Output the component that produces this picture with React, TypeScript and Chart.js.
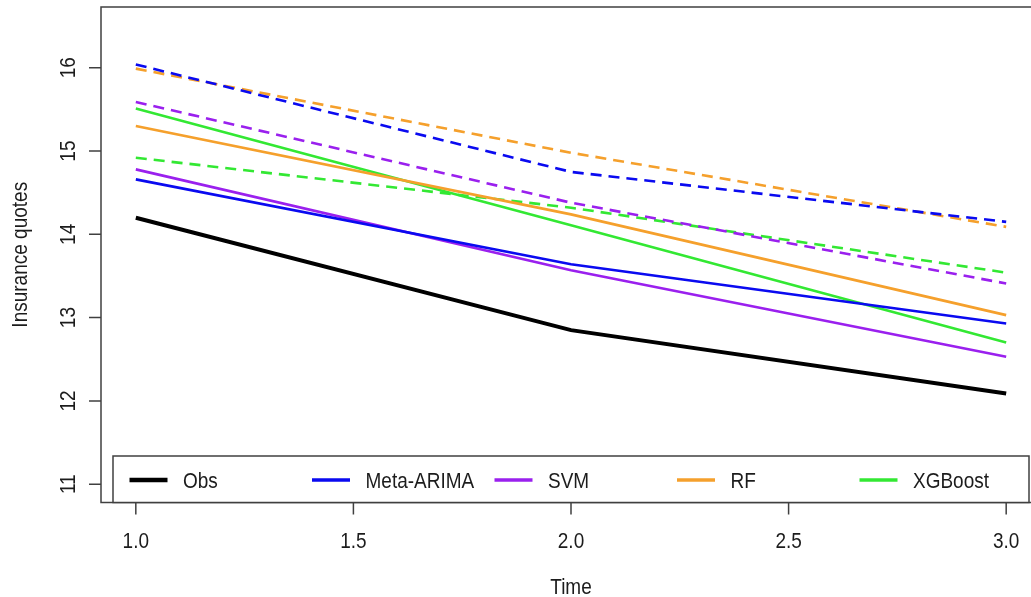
import { useEffect, useRef } from "react";
import { Chart, registerables } from "chart.js";

Chart.register(...registerables);

// Forecast horizon (time steps)
const times = [1, 2, 3];

// Observed values and model forecasts (solid lines)
const obs = [14.2, 12.85, 12.09];
const metaArima = [14.66, 13.64, 12.93];
const svm = [14.78, 13.57, 12.53];
const rf = [15.3, 14.24, 13.03];
const xgboost = [15.51, 14.11, 12.7];

// Companion dashed curves for each model
const metaArimaDashed = [16.04, 14.75, 14.15];
const svmDashed = [15.59, 14.38, 13.41];
const rfDashed = [15.99, 14.98, 14.09];
const xgboostDashed = [14.92, 14.32, 13.54];

const legendLabels = ["Obs", "Meta-ARIMA", "SVM", "RF", "XGBoost"];
const xTicks = [1.0, 1.5, 2.0, 2.5, 3.0];
const yTicks = [11, 12, 13, 14, 15, 16];

const COLORS = {
  Obs: "#000000",
  "Meta-ARIMA": "#0a0af0",
  SVM: "#9a20ee",
  RF: "#f5a02c",
  XGBoost: "#33e833",
};

const FONT = '19px "Liberation Sans", Arial, Helvetica, sans-serif';
const INK = "#1c1c1c";
const AXIS = "#404040";
// glyphs are drawn slightly taller than wide, like the narrow Helvetica look
const STRETCH = 1.13;

function drawText(
  ctx: CanvasRenderingContext2D,
  text: string,
  x: number,
  y: number,
  align: CanvasTextAlign,
  rotated = false
) {
  ctx.save();
  ctx.translate(x, y);
  if (rotated) ctx.rotate(-Math.PI / 2);
  ctx.scale(1, STRETCH);
  ctx.textAlign = align;
  ctx.textBaseline = "alphabetic";
  ctx.fillText(text, 0, 0);
  ctx.restore();
}

const toPoints = (ys: number[]) => times.map((t, i) => ({ x: t, y: ys[i] }));

const rAxesPlugin = {
  id: "rAxes",
  afterDraw(chart: any) {
    const { ctx, chartArea } = chart;
    const xs = chart.scales.x;
    const ys = chart.scales.y;
    const { left, right, top, bottom } = chartArea;

    ctx.save();
    ctx.strokeStyle = AXIS;
    ctx.lineWidth = 1.5;

    // plot frame
    ctx.strokeRect(left, top, right - left, bottom - top);

    ctx.fillStyle = INK;
    ctx.font = FONT;

    // x axis ticks and labels
    ctx.beginPath();
    xTicks.forEach((v) => {
      const px = xs.getPixelForValue(v);
      ctx.moveTo(px, bottom);
      ctx.lineTo(px, bottom + 12);
    });
    ctx.stroke();
    xTicks.forEach((v) => {
      drawText(ctx, v.toFixed(1), xs.getPixelForValue(v), 547.5, "center");
    });

    // y axis ticks and rotated labels
    ctx.beginPath();
    yTicks.forEach((v) => {
      const py = ys.getPixelForValue(v);
      ctx.moveTo(left, py);
      ctx.lineTo(left - 12, py);
    });
    ctx.stroke();
    yTicks.forEach((v) => {
      drawText(ctx, String(v), 74.5, ys.getPixelForValue(v), "center", true);
    });

    // axis titles
    drawText(ctx, "Time", (left + right) / 2, 593.5, "center");
    drawText(ctx, "Insurance quotes", 27, (top + bottom) / 2, "center", true);

    // legend box, horizontal layout at the bottom of the plot
    const boxL = 113;
    const boxR = 1029;
    const boxT = 456;
    const boxB = bottom;
    ctx.fillStyle = "#ffffff";
    ctx.fillRect(boxL, boxT, boxR - boxL, boxB - boxT);
    ctx.strokeStyle = AXIS;
    ctx.lineWidth = 1.5;
    ctx.strokeRect(boxL, boxT, boxR - boxL, boxB - boxT);

    const step = 182.5;
    legendLabels.forEach((name, i) => {
      const x0 = 129.5 + i * step;
      ctx.strokeStyle = (COLORS as any)[name];
      ctx.lineWidth = name === "Obs" ? 4.5 : 3.5;
      ctx.lineCap = "butt";
      ctx.beginPath();
      ctx.moveTo(x0, 480);
      ctx.lineTo(x0 + 38, 480);
      ctx.stroke();
      ctx.fillStyle = INK;
      drawText(ctx, name, 183 + i * step, 487.5, "left");
    });

    ctx.restore();
  },
};

export default function App() {
  const canvasRef = useRef<HTMLCanvasElement | null>(null);

  useEffect(() => {
    const canvas = canvasRef.current;
    if (!canvas) return;

    const solid = (label: string, ys: number[], width: number) => ({
      label,
      data: toPoints(ys),
      borderColor: (COLORS as any)[label],
      borderWidth: width,
      pointRadius: 0,
      tension: 0,
      fill: false,
    });
    const dashed = (label: string, ys: number[]) => ({
      label: label + " (dashed)",
      data: toPoints(ys),
      borderColor: (COLORS as any)[label],
      borderWidth: 2.6,
      borderDash: [11, 7],
      pointRadius: 0,
      tension: 0,
      fill: false,
    });

    const chart = new Chart(canvas, {
      type: "line",
      data: {
        datasets: [
          solid("Obs", obs, 4),
          solid("Meta-ARIMA", metaArima, 2.6),
          solid("SVM", svm, 2.6),
          solid("RF", rf, 2.6),
          solid("XGBoost", xgboost, 2.6),
          dashed("Meta-ARIMA", metaArimaDashed),
          dashed("SVM", svmDashed),
          dashed("RF", rfDashed),
          dashed("XGBoost", xgboostDashed),
        ],
      },
      options: {
        animation: false,
        responsive: true,
        maintainAspectRatio: false,
        layout: { padding: { left: 101, right: 9, top: 7, bottom: 94.5 } },
        plugins: {
          legend: { display: false },
          tooltip: { enabled: false },
        },
        scales: {
          x: { type: "linear", min: 0.92, max: 3.08, display: false },
          y: { type: "linear", min: 10.78, max: 16.73, display: false },
        },
      },
      plugins: [rAxesPlugin],
    });

    return () => chart.destroy();
  }, []);

  return (
    <div
      style={{
        position: "fixed",
        left: 0,
        top: 0,
        width: 1031,
        height: 597,
        overflow: "hidden",
        background: "#ffffff",
      }}
    >
      <div style={{ position: "relative", width: 1050, height: 597 }}>
        <canvas ref={canvasRef} />
      </div>
    </div>
  );
}
